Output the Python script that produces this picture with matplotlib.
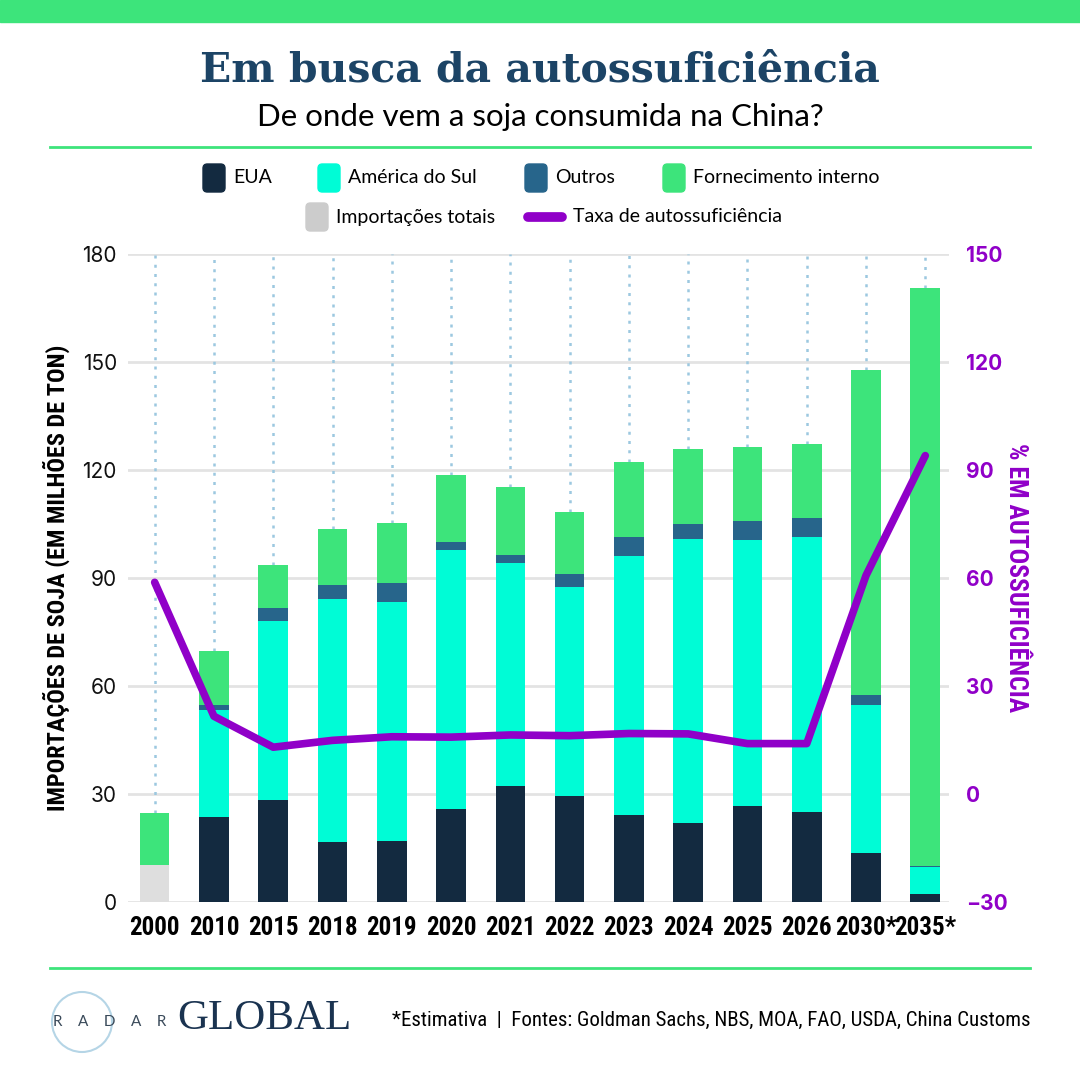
import matplotlib.pyplot as plt
from matplotlib.patches import FancyBboxPatch, Circle
from matplotlib.lines import Line2D
from matplotlib import font_manager
import numpy as np

# dados (milhões de toneladas / %)
anos = ["2000", "2010", "2015", "2018", "2019", "2020", "2021", "2022",
        "2023", "2024", "2025", "2026", "2030*", "2035*"]
eua = [0, 23.5, 28.4, 16.7, 16.9, 25.8, 32.2, 29.4, 24.3, 22.0, 26.7, 24.9, 13.5, 2.3]
america_sul = [0, 29.9, 49.6, 67.5, 66.5, 71.9, 62.1, 58.1, 71.9, 78.9, 73.9, 76.5, 41.3, 7.5]
outros = [0, 1.4, 3.7, 3.9, 5.1, 2.4, 2.1, 3.6, 5.3, 4.2, 5.1, 5.2, 2.7, 0.3]
importacoes_totais = [10.4, 0, 0, 0, 0, 0, 0, 0, 0, 0, 0, 0, 0, 0]
fornecimento_interno = [14.4, 15.0, 12.0, 15.4, 16.7, 18.6, 18.8, 17.3, 20.6, 20.6, 20.6, 20.7, 90.4, 160.4]
taxa_auto = [58.8, 21.6, 13.0, 14.9, 15.9, 15.8, 16.4, 16.2, 16.8, 16.7, 14.0, 14.0, 60.7, 94.0]

C_EUA = "#132a40"
C_AS = "#00fcd6"
C_OUT = "#27658b"
C_INT = "#3de47b"
C_TOT = "#dedede"
C_LINE = "#9000c8"
C_TITLE = "#1c4466"

# procura uma fonte condensada instalada
fontes = font_manager.fontManager.ttflist
nomes = {f.name for f in fontes}
COND = dict(family="Roboto")
for n in ["Roboto Condensed", "Noto Sans Condensed", "Open Sans Condensed", "Liberation Sans Narrow"]:
    if n in nomes:
        COND = dict(family=n)
        break
else:
    for n in ["Noto Sans", "Open Sans", "DejaVu Sans", "Roboto"]:
        if any(f.name == n and "condensed" in str(f.stretch) for f in fontes):
            COND = dict(family=n, stretch="condensed")
            break

fig = plt.figure(figsize=(10.8, 10.8), dpi=100)
fig.patch.set_facecolor("white")

# faixa verde no topo e linhas
fig.patches.append(plt.Rectangle((0, 1 - 22 / 1080), 1, 22 / 1080, transform=fig.transFigure,
                                 color=C_INT, zorder=0))
fig.add_artist(Line2D([50 / 1080, 1030 / 1080], [1 - 147 / 1080] * 2, color=C_INT, lw=2))
fig.add_artist(Line2D([50 / 1080, 1030 / 1080], [1 - 968 / 1080] * 2, color=C_INT, lw=2))

fig.text(0.5, 1 - 70 / 1080, "Em busca da autossuficiência", ha="center", va="center",
         family="DejaVu Serif", weight="bold", fontsize=29.5, color=C_TITLE)
fig.text(0.5, 1 - 117 / 1080, "De onde vem a soja consumida na China?", ha="center", va="center",
         family="Lato", fontsize=22.5, color="black")

# legenda manual
def leg_box(x, y, color, label):
    fig.patches.append(FancyBboxPatch((x / 1080, 1 - (y + 14) / 1080), 22 / 1080, 28 / 1080,
                                      boxstyle="round,pad=0,rounding_size=0.004",
                                      transform=fig.transFigure, color=color))
    fig.text((x + 30) / 1080, 1 - y / 1080, label, ha="left", va="center",
             family="Lato", fontsize=14, color="black")

leg_box(203, 178, C_EUA, "EUA")
leg_box(318, 178, C_AS, "América do Sul")
leg_box(525, 178, C_OUT, "Outros")
leg_box(663, 178, C_INT, "Fornecimento interno")
leg_box(306, 217, "#cccccc", "Importações totais")
fig.add_artist(Line2D([528 / 1080, 562 / 1080], [1 - 217 / 1080] * 2, color=C_LINE, lw=7,
                      solid_capstyle="round"))
fig.text(573 / 1080, 1 - 217 / 1080, "Taxa de autossuficiência", ha="left", va="center",
         family="Lato", fontsize=14, color="black")

ax = fig.add_axes([128 / 1080, 178 / 1080, 821 / 1080, 648 / 1080])
x = np.arange(len(anos))
w = 0.5

base = np.zeros(len(anos))
for vals, col in [(importacoes_totais, C_TOT), (eua, C_EUA), (america_sul, C_AS),
                  (outros, C_OUT), (fornecimento_interno, C_INT)]:
    vals = np.array(vals)
    ax.bar(x, vals, w, bottom=base, color=col, zorder=3, edgecolor="none")
    base = base + vals

# linhas pontilhadas verticais até o topo das barras
ax.vlines(x, base, 180, colors="#9cc8e0", linestyles=(0, (1.2, 2.5)), lw=1.8, zorder=1)

ax.set_ylim(0, 180)
ax.set_xlim(-0.45, 13.4)
ax.set_yticks(range(0, 181, 30))
ax.grid(axis="y", color="#e3e3e3", lw=2, zorder=0)
ax.set_axisbelow(True)
for s in ax.spines.values():
    s.set_visible(False)
ax.tick_params(axis="y", length=0, pad=8, labelsize=15, labelcolor="#111111")
ax.tick_params(axis="x", length=0, pad=10)
ax.set_xticks(x)
ax.set_xticklabels(anos, weight="bold", fontsize=18, color="black", **COND)
for t in ax.get_yticklabels():
    t.set_family("Inter")
ax.set_ylabel("IMPORTAÇÕES DE SOJA (EM MILHÕES DE TON)", weight="bold", fontsize=17.5,
              labelpad=9, **COND)

ax2 = ax.twinx()
ax2.set_ylim(-30, 150)
ax2.set_yticks(range(-30, 151, 30))
ax2.plot(x, taxa_auto, color=C_LINE, lw=5.5, zorder=5, solid_capstyle="round", solid_joinstyle="round")
for s in ax2.spines.values():
    s.set_visible(False)
ax2.tick_params(axis="y", length=0, pad=12, labelsize=15, labelcolor=C_LINE)
for t in ax2.get_yticklabels():
    t.set_family("Inter")
    t.set_weight("bold")
ax2.set_ylabel("% EM AUTOSSUFICIÊNCIA", weight="bold", fontsize=18.5, color=C_LINE,
               rotation=270, labelpad=15, **COND)

# rodapé
fig.add_artist(Circle((82 / 1080, 1 - 1022 / 1080), 30 / 1080, transform=fig.transFigure,
                      fill=False, ec="#b5d5e6", lw=1.5))
fig.text(53 / 1080, 1 - 1022 / 1080, "R    A    D    A    R", ha="left", va="center", family="Lato",
         fontsize=11, color="#3a4a5a")
fig.text(177 / 1080, 1 - 1019 / 1080, "GLOBAL", ha="left", va="center", family="Liberation Serif",
         fontsize=31, color="#1a3350")
fig.text(1030 / 1080, 1 - 1020 / 1080,
         "*Estimativa  |  Fontes: Goldman Sachs, NBS, MOA, FAO, USDA, China Customs",
         ha="right", va="center", fontsize=15, color="black", **COND)

fig.savefig("out.png", dpi=100)
